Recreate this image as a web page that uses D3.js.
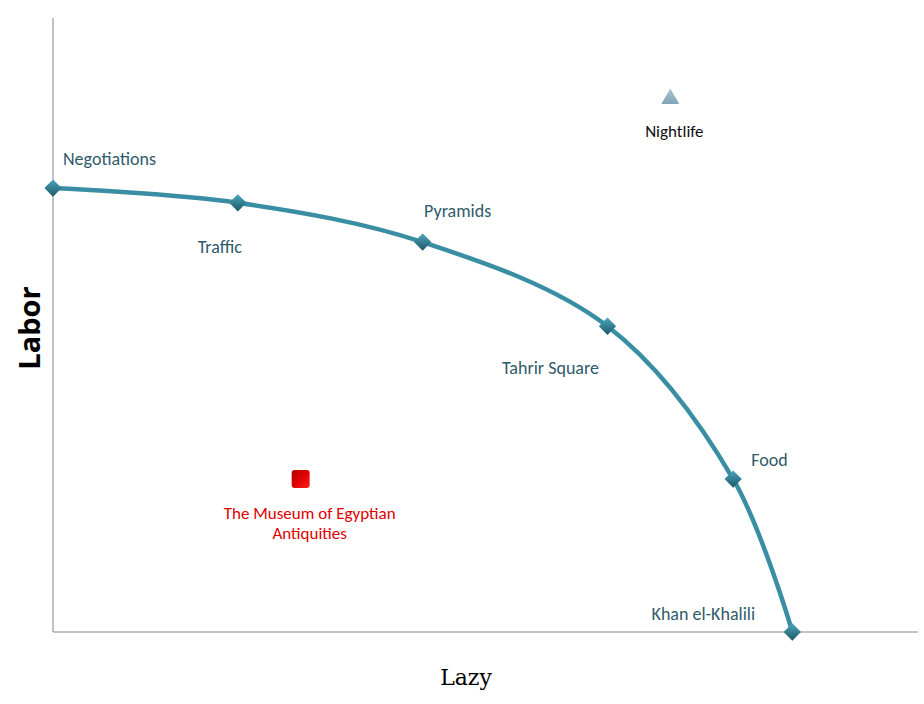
<!DOCTYPE html>
<html><head><meta charset="utf-8">
<script src="https://cdn.jsdelivr.net/npm/d3@7"></script>
<style>body{margin:0;background:#fff;} svg{display:block;}</style>
</head><body>
<svg id="chart" width="924" height="704"></svg>
<script>
// Data
const curveNames = ["Negotiations","Traffic","Pyramids","Tahrir Square","Food","Khan el-Khalili"];
const curveX = [0, 1, 2, 3, 3.68, 4.0];
const curveY = [7.23, 6.99, 6.35, 4.98, 2.49, 0];
const museumName = ["The Museum of Egyptian", "Antiquities"];
const museumX = [1.34];
const museumY = [2.49];
const nightName = ["Nightlife"];
const nightX = [3.34];
const nightY = [8.7];
const xTitle = "Lazy";
const yTitle = "Labor";

// Layout (not data)
const labelOffsets = [[10,-27,"start"],[-18,46,"middle"],[35,-29,"middle"],[-57,43,"middle"],[18,-17,"start"],[-89,-16,"middle"]];
const FONT = "Carlito, Lato, 'Open Sans', sans-serif";

const svg = d3.select("#chart");
const x = d3.scaleLinear().domain([0, 4.68]).range([53, 918]);
const y = d3.scaleLinear().domain([0, 10]).range([632, 18]);

const defs = svg.append("defs");
const dg = defs.append("linearGradient").attr("id","dg").attr("x1","0").attr("y1","0").attr("x2","1").attr("y2","1");
dg.append("stop").attr("offset","0").attr("stop-color","#4aa6bd");
dg.append("stop").attr("offset","1").attr("stop-color","#1d5868");
const rg = defs.append("linearGradient").attr("id","rg").attr("x1","0").attr("y1","0").attr("x2","1").attr("y2","1");
rg.append("stop").attr("offset","0").attr("stop-color","#b00000");
rg.append("stop").attr("offset","0.5").attr("stop-color","#e00000");
rg.append("stop").attr("offset","1").attr("stop-color","#ff2020");
const tg = defs.append("linearGradient").attr("id","tg").attr("x1","0").attr("y1","0").attr("x2","0").attr("y2","1");
tg.append("stop").attr("offset","0").attr("stop-color","#a9c6d3");
tg.append("stop").attr("offset","1").attr("stop-color","#7fa5b8");

// Axes
svg.append("line").attr("x1", x(0)).attr("x2", x(0)).attr("y1", y(10)).attr("y2", y(0)).attr("stroke","#868686").attr("stroke-width",1);
svg.append("line").attr("x1", x(0)).attr("x2", x(4.68)).attr("y1", y(0)).attr("y2", y(0)).attr("stroke","#868686").attr("stroke-width",1);

// Curve
const pts = curveX.map((v,i)=>[x(v), y(curveY[i])]);
svg.append("path").attr("d", d3.line().curve(d3.curveCatmullRom.alpha(0.5))(pts))
  .attr("fill","none").attr("stroke","#3a8ea3").attr("stroke-width",4.5).attr("stroke-linecap","round");

// Diamonds
svg.selectAll("path.dia").data(pts).join("path").attr("class","dia")
  .attr("d", d3.symbol().type(d3.symbolSquare).size(150)())
  .attr("transform", d=>`translate(${d[0]},${d[1]}) rotate(45)`)
  .attr("fill","url(#dg)");

// Curve labels
svg.selectAll("text.cl").data(curveNames).join("text").attr("class","cl")
  .attr("x",(d,i)=>pts[i][0]+labelOffsets[i][0]).attr("y",(d,i)=>pts[i][1]+labelOffsets[i][1])
  .attr("text-anchor",(d,i)=>labelOffsets[i][2]).attr("dominant-baseline","middle")
  .attr("font-family",FONT).attr("font-size",18).attr("fill","#2f5a6b")
  .text(d=>d);

// Museum
const mx = x(museumX[0]), my = y(museumY[0]);
svg.append("rect").attr("x",mx-9).attr("y",my-9).attr("width",18).attr("height",18).attr("rx",3)
  .attr("fill","url(#rg)");
svg.selectAll("text.ml").data(museumName).join("text").attr("class","ml")
  .attr("x", mx+9).attr("y",(d,i)=>my+36+i*20).attr("text-anchor","middle").attr("dominant-baseline","middle")
  .attr("font-family",FONT).attr("font-size",17).attr("fill","#e00000").text(d=>d);

// Nightlife
const nx = x(nightX[0]), ny = y(nightY[0]);
svg.append("path").attr("d", d3.symbol().type(d3.symbolTriangle).size(140)())
  .attr("transform",`translate(${nx},${ny+1})`).attr("fill","url(#tg)");
svg.append("text").attr("x",nx+4).attr("y",ny+35).attr("text-anchor","middle").attr("dominant-baseline","middle")
  .attr("font-family",FONT).attr("font-size",17).attr("fill","#111").text(nightName[0]);

// Titles
svg.append("text").attr("x",466).attr("y",679).attr("text-anchor","middle").attr("dominant-baseline","middle")
  .attr("font-family","'DejaVu Serif', 'Liberation Serif', serif").attr("font-size",22).attr("fill","#000").text(xTitle);
svg.append("text").attr("transform","translate(32,328) rotate(-90)").attr("text-anchor","middle").attr("dominant-baseline","middle")
  .attr("font-family","'Open Sans', 'DejaVu Sans', sans-serif").attr("font-weight","bold").attr("font-size",29).attr("fill","#000").text(yTitle);
</script>
</body></html>
